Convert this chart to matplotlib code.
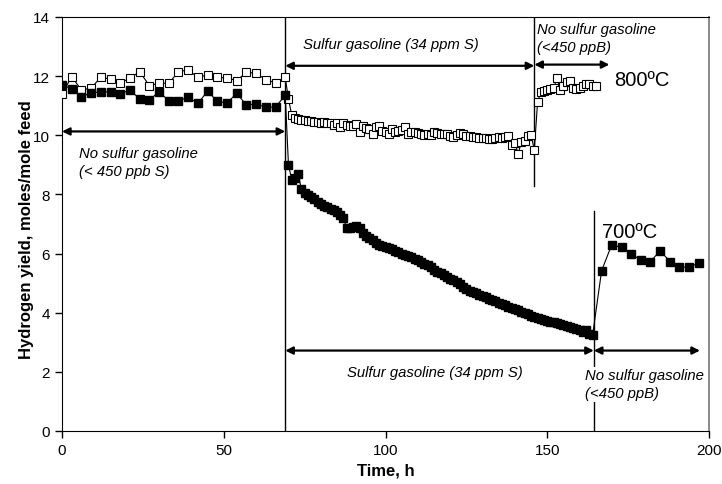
import numpy as np
import matplotlib
matplotlib.use('Agg')
import matplotlib.pyplot as plt

plt.rcParams['font.family'] = ['Liberation Sans', 'DejaVu Sans']

# 800 C run (open squares)
t_open = [0, 3, 6, 9, 12, 15, 18, 21, 24, 27, 30, 33, 36, 39, 42, 45, 48, 51, 54, 57, 60, 63, 66, 69,
          70, 71, 72, 73, 74, 75, 76, 77, 78, 79, 80, 81, 82, 83, 84, 85, 86, 87, 88, 89,
          90, 91, 92, 93, 94, 95, 96, 97, 98, 99, 100, 101, 102, 103, 104, 105, 106, 107, 108, 109,
          110, 111, 112, 113, 114, 115, 116, 117, 118, 119, 120, 121, 122, 123, 124, 125, 126, 127, 128, 129,
          130, 131, 132, 133, 134, 135, 136, 137, 138, 139, 140, 141, 142, 143, 144, 145, 146,
          147, 148, 149, 150, 151, 152, 153, 154, 155, 156, 157, 158, 159, 160, 161, 162, 163, 164, 165]
h2_open = [11.40, 11.98, 11.53, 11.60, 11.96, 11.90, 11.77, 11.93, 12.15, 11.68, 11.76, 11.76,
           12.15, 12.21, 11.96, 12.04, 11.96, 11.94, 11.85, 12.13, 12.10, 11.88, 11.77, 11.96,
           11.23, 10.69, 10.57, 10.55, 10.52, 10.50, 10.48, 10.47, 10.46, 10.45, 10.43, 10.45, 10.40, 10.42,
           10.35, 10.40, 10.27, 10.40, 10.35, 10.30, 10.33, 10.38, 10.12, 10.30, 10.25, 10.20, 10.05, 10.28,
           10.32, 10.15, 10.10, 10.04, 10.20, 10.10, 10.15, 10.18, 10.27, 10.04, 10.12, 10.10, 10.08, 10.05,
           10.02, 10.04, 10.00, 10.10, 10.08, 10.05, 10.06, 10.04, 9.98, 9.93, 10.02, 10.08, 10.06, 9.99,
           9.97, 9.95, 9.93, 9.92, 9.90, 9.92, 9.89, 9.88, 9.90, 9.93, 9.92, 9.95, 9.97, 9.67, 9.75, 9.37,
           9.78, 9.80, 9.97, 10.01, 9.51,
           11.11, 11.47, 11.50, 11.54, 11.58, 11.60, 11.94, 11.53, 11.66, 11.80, 11.83, 11.59, 11.57, 11.60,
           11.66, 11.74, 11.72, 11.68, 11.68]

# 700 C run (filled squares)
t_fill = [0, 3, 6, 9, 12, 15, 18, 21, 24, 27, 30, 33, 36, 39, 42, 45, 48, 51, 54, 57, 60, 63, 66, 69,
          70, 71, 72, 73, 74, 75, 76, 77, 78, 79, 80, 81, 82, 83, 84, 85, 86, 87, 88, 89,
          90, 91, 92, 93, 94, 95, 96, 97, 98, 99, 100, 101, 102, 103, 104, 105, 106, 107, 108, 109,
          110, 111, 112, 113, 114, 115, 116, 117, 118, 119, 120, 121, 122, 123, 124, 125, 126, 127, 128, 129,
          130, 131, 132, 133, 134, 135, 136, 137, 138, 139, 140, 141, 142, 143, 144, 145, 146, 147, 148, 149,
          150, 151, 152, 153, 154, 155, 156, 157, 158, 159, 160, 161, 162, 163, 164,
          166.8, 169.9, 173.0, 175.8, 178.9, 181.8, 184.9, 187.9, 190.8, 193.9, 196.9]
h2_fill = [11.71, 11.57, 11.31, 11.43, 11.47, 11.47, 11.40, 11.53, 11.23, 11.20, 11.47, 11.17,
           11.17, 11.28, 11.08, 11.49, 11.15, 11.09, 11.42, 11.02, 11.06, 10.95, 10.95, 11.36,
           9.00, 8.50, 8.55, 8.69, 8.18, 8.05, 7.98, 7.90, 7.83, 7.75, 7.67, 7.62, 7.57, 7.52, 7.46, 7.40,
           7.30, 7.20, 6.85, 6.88, 6.90, 6.92, 6.85, 6.70, 6.60, 6.52, 6.45, 6.35, 6.28, 6.25, 6.22, 6.18,
           6.15, 6.10, 6.05, 6.00, 5.96, 5.92, 5.88, 5.83, 5.78, 5.73, 5.66, 5.60, 5.53, 5.46, 5.38, 5.33,
           5.28, 5.22, 5.14, 5.09, 5.04, 4.96, 4.88, 4.80, 4.74, 4.70, 4.65, 4.60, 4.56, 4.52, 4.48, 4.44,
           4.38, 4.33, 4.29, 4.25, 4.20, 4.16, 4.12, 4.08, 4.03, 3.98, 3.94, 3.90, 3.85, 3.82, 3.79, 3.76,
           3.73, 3.70, 3.68, 3.65, 3.61, 3.58, 3.54, 3.51, 3.48, 3.44, 3.40, 3.35, 3.43, 3.28, 3.23,
           5.42, 6.29, 6.21, 5.99, 5.79, 5.71, 6.10, 5.73, 5.54, 5.54, 5.68]

fig = plt.figure(figsize=(7.22, 4.85), dpi=100)
ax = fig.add_axes([0.0859, 0.1093, 0.8961, 0.8536])

ax.plot(t_open, h2_open, color='black', lw=0.8, marker='s', ms=5.2,
        mfc='white', mec='black', mew=0.8, zorder=3)
ax.plot(t_fill, h2_fill, color='black', lw=0.8, marker='s', ms=5.2,
        mfc='black', mec='black', zorder=4)

# switch lines
ax.plot([69, 69], [0, 14], color='black', lw=1.0, zorder=2)
ax.plot([146, 146], [8.3, 14], color='black', lw=1.0, zorder=2)
ax.plot([164.4, 164.4], [0, 7.45], color='black', lw=1.0, zorder=2)

def span(x0, x1, y):
    ax.annotate('', xy=(x1, y), xytext=(x0, y),
                arrowprops=dict(arrowstyle='<|-|>', color='black', lw=1.6,
                                mutation_scale=11, shrinkA=0, shrinkB=0))

span(0, 69, 10.13)
span(69, 146, 12.35)
span(146, 169.2, 12.39)
span(69, 164.4, 2.72)
span(164.4, 197.2, 2.72)

fs = 10.7
ax.text(5.3, 9.1, 'No sulfur gasoline\n(< 450 ppb S)', fontsize=fs, style='italic',
        va='center', ha='left', linespacing=1.4)
ax.text(74.4, 13.09, 'Sulfur gasoline (34 ppm S)', fontsize=fs, style='italic',
        va='center', ha='left')
ax.text(146.9, 13.28, 'No sulfur gasoline\n(<450 ppB)', fontsize=fs, style='italic',
        va='center', ha='left', linespacing=1.4)
ax.text(88, 2.0, 'Sulfur gasoline (34 ppm S)', fontsize=fs, style='italic',
        va='center', ha='left')
ax.text(161.7, 1.58, 'No sulfur gasoline\n(<450 ppB)', fontsize=fs, style='italic',
        va='center', ha='left', linespacing=1.4, zorder=5,
        bbox=dict(facecolor='white', edgecolor='none', pad=1))
ax.text(170.6, 11.9, '800ºC', fontsize=14.5, va='center', ha='left')
ax.text(166.8, 6.75, '700ºC', fontsize=14.5, va='center', ha='left')

ax.set_xlim(0, 200)
ax.set_ylim(0, 14)
ax.set_xticks([0, 50, 100, 150, 200])
ax.set_yticks([0, 2, 4, 6, 8, 10, 12, 14])
ax.tick_params(direction='out', length=5, width=1, labelsize=11, top=False, right=False)
ax.spines['right'].set_color('0.5')
ax.spines['right'].set_linewidth(1.3)
ax.set_xlabel('Time, h', fontsize=12, fontweight='bold')
ax.set_ylabel('Hydrogen yield, moles/mole feed', fontsize=12, fontweight='bold')
ax.yaxis.set_label_coords(-0.043, 0.49)

plt.savefig('out.png', dpi=100)
